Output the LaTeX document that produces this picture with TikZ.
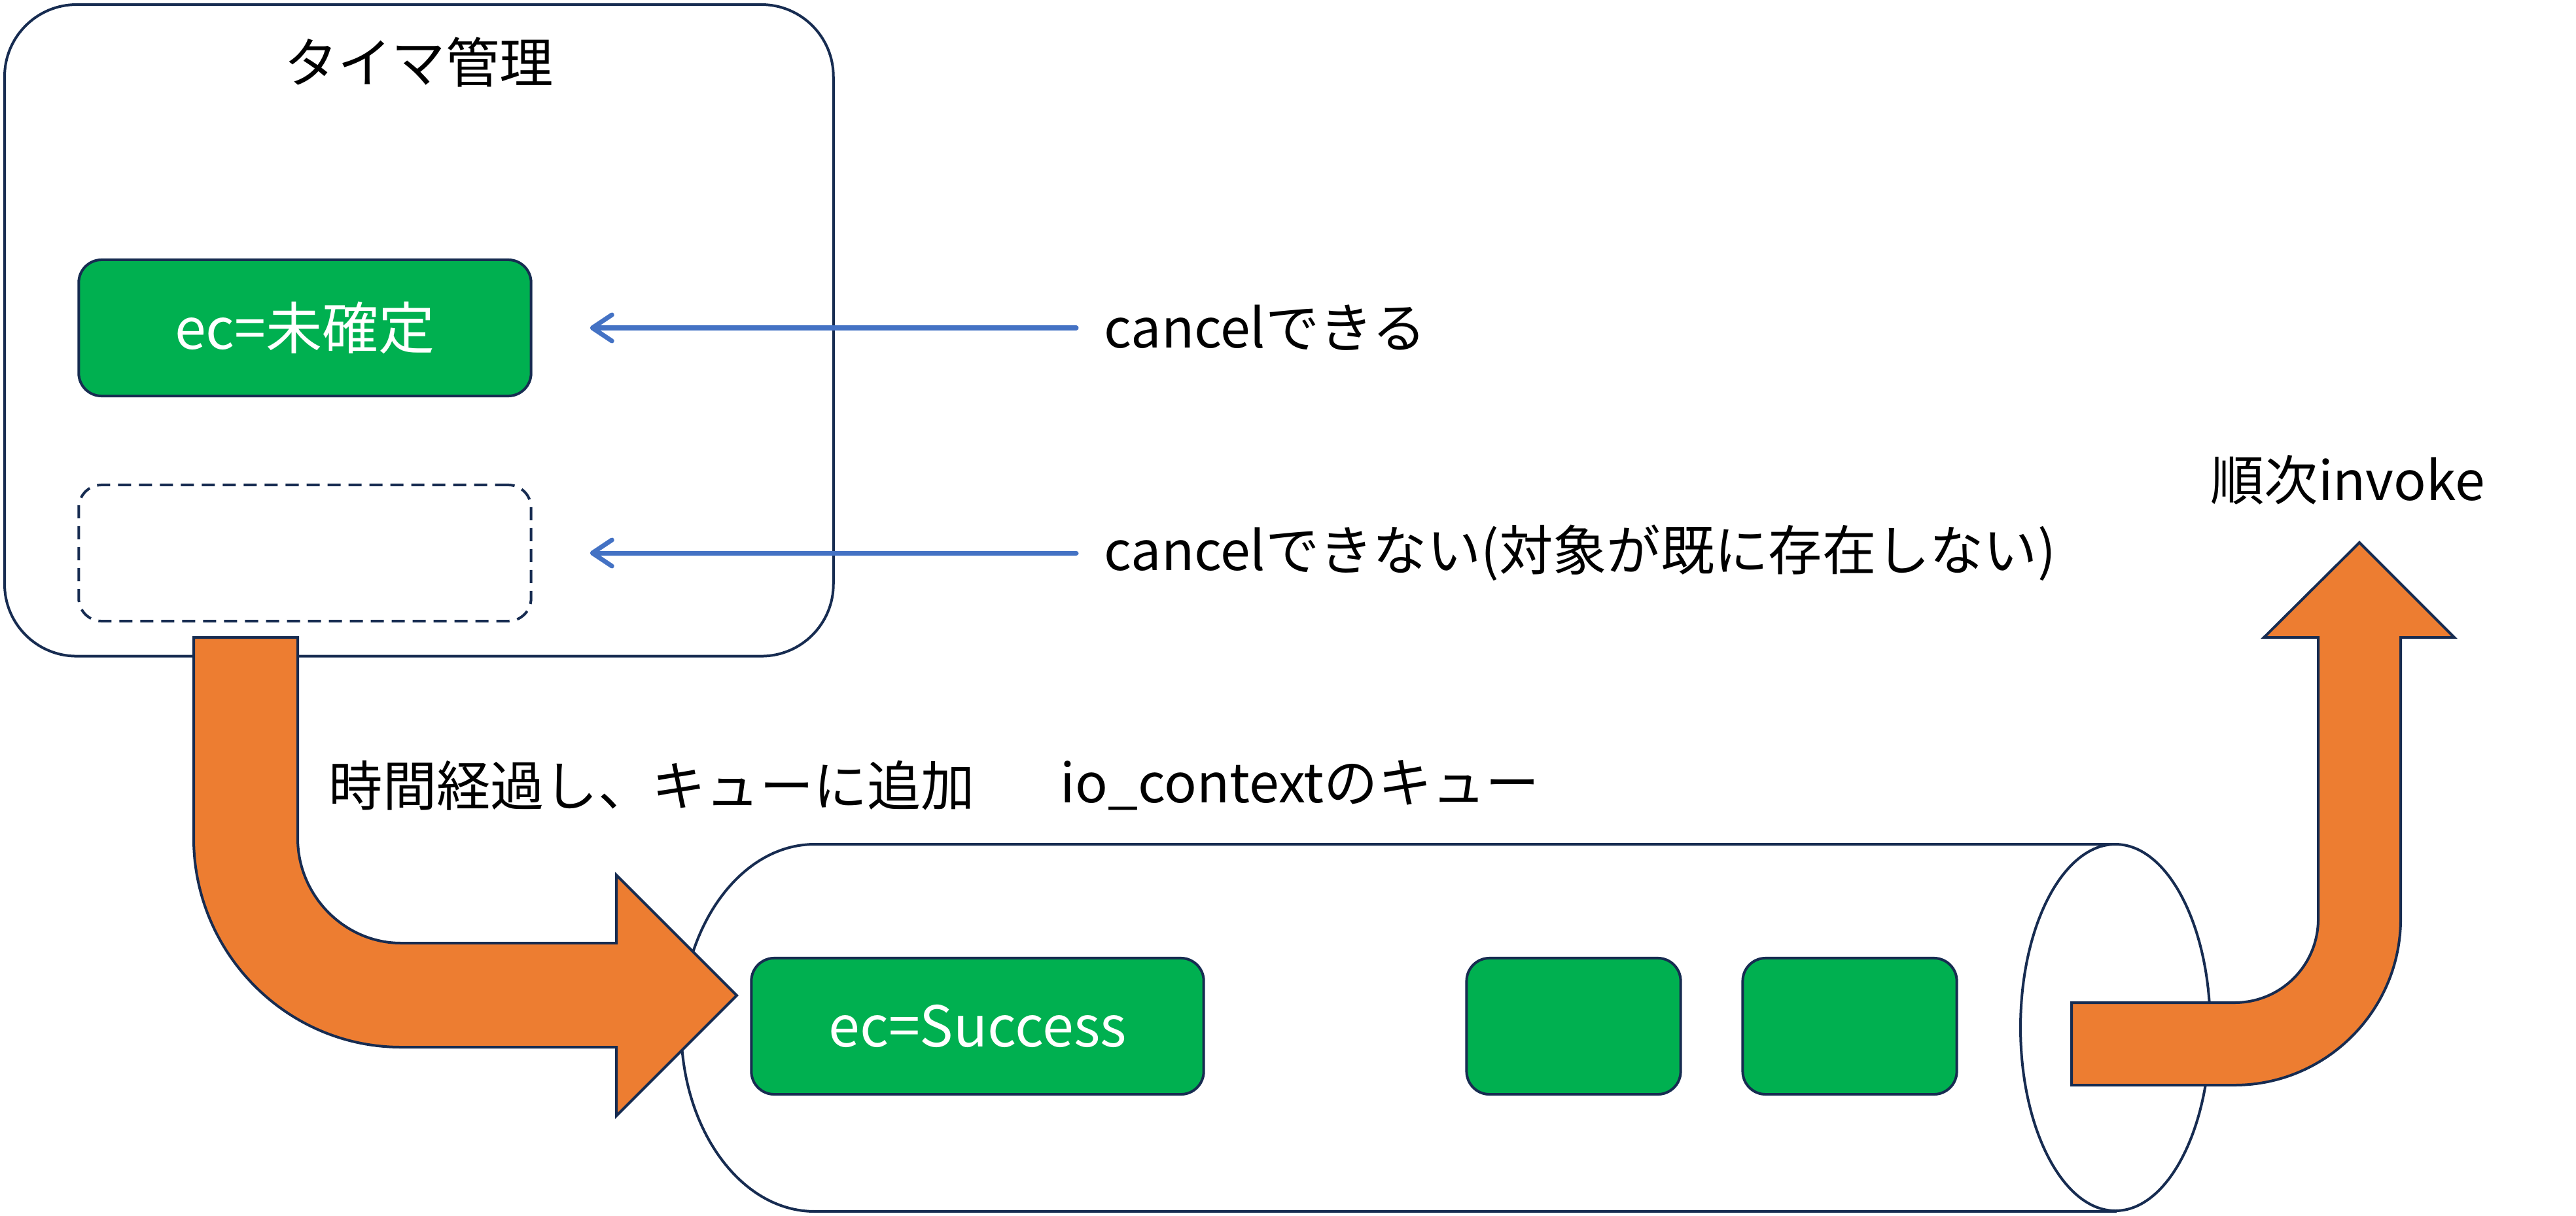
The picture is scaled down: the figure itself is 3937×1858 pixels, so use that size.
\documentclass[tikz,border=0pt]{standalone}
\usepackage{fontspec}
\setmainfont{Noto Sans CJK JP}
\usepackage{tikz}
\usetikzlibrary{arrows.meta}
\definecolor{navy}{HTML}{172C51}
\definecolor{accent}{HTML}{ED7D31}
\definecolor{okgreen}{HTML}{00B050}
\definecolor{linkblue}{HTML}{4472C4}
\tikzset{
  outline/.style={draw=navy, line width=0.04cm},
  timerbox/.style={outline, rounded corners=1.1cm, inner sep=0pt, minimum width=12.66cm, minimum height=9.95cm},
  slot/.style={outline, rounded corners=0.35cm, inner sep=0pt, minimum width=6.91cm, minimum height=2.08cm,
    font=\fontsize{24.5pt}{29pt}\selectfont},
  full/.style={slot, fill=okgreen, text=white},
  hole/.style={slot, dash pattern=on 0.2cm off 0.12cm},
  txt/.style={inner sep=0pt, font=\fontsize{23.4pt}{28pt}\selectfont},
  cancel/.style={draw=linkblue, line width=0.07cm, line cap=round,
    -{Straight Barb[length=0.3cm, width=0.4cm, round]}},
  bigarrow/.style={outline, fill=accent, line join=miter},
  pipe/.style={outline, fill=white}}

\begin{document}
\begin{tikzpicture}[x=0.01cm, y=-0.01cm]
	\useasboundingbox (0,0) rectangle (3937,1858);
	\node [timerbox, anchor=north west] (timer) at (5,5) {};
	\node [txt] (title) at (640,95) {タイマ管理};
	\node [full] (pending) at (466,501) {ec=未確定};
	\node [hole] (gone) at (466,845) {};
	\node [txt, anchor=west] (can) at (1687,501) {cancelできる};
	\node [txt, anchor=west] (cannot) at (1687,845) {cancelできない(対象が既に存在しない)};
	\draw [cancel, shorten <=0.42cm, shorten >=0.88cm] (can.west) -- (pending.east);
	\draw [cancel, shorten <=0.42cm, shorten >=0.88cm] (cannot.west) -- (gone.east);
	\node [txt, anchor=west] (expire) at (502,1200) {時間経過し、キューに追加};
	\node [txt, anchor=west] (queue) at (1620,1200) {io\_contextのキュー};
	\node [txt] (invoke) at (3588,733) {順次invoke};
	% io_context queue
	\draw [pipe] (1245,1290) -- (3233,1290) -- (3233,1851) -- (1245,1851)
		.. controls (1132,1851) and (1041,1725) .. (1041,1570)
		.. controls (1041,1416) and (1132,1290) .. (1245,1290) -- cycle;
	\draw [pipe] (3233,1570) ellipse [x radius=145, y radius=280];
	\node [full] (done) at (1494,1568) {ec=Success};
	\node [full, minimum width=3.27cm] (next) at (2405,1568) {};
	\node [full, minimum width=3.27cm] (last) at (2827,1568) {};
	% big arrows
	\draw [bigarrow] (296,974) -- (455,974) -- (455,1281)
		.. controls (455,1368) and (526,1441) .. (613,1441) -- (942,1441) -- (942,1337)
		-- (1126,1521) -- (942,1705) -- (942,1600) -- (613,1600)
		.. controls (438,1600) and (296,1456) .. (296,1281) -- cycle;
	\draw [bigarrow] (3166,1532) -- (3415,1532)
		.. controls (3486,1532) and (3543,1475) .. (3543,1404) -- (3543,974) -- (3460,974)
		-- (3606,829) -- (3751,974) -- (3669,974) -- (3669,1404)
		.. controls (3669,1544) and (3555,1658) .. (3415,1658) -- (3166,1658) -- cycle;
\end{tikzpicture}
\end{document}
